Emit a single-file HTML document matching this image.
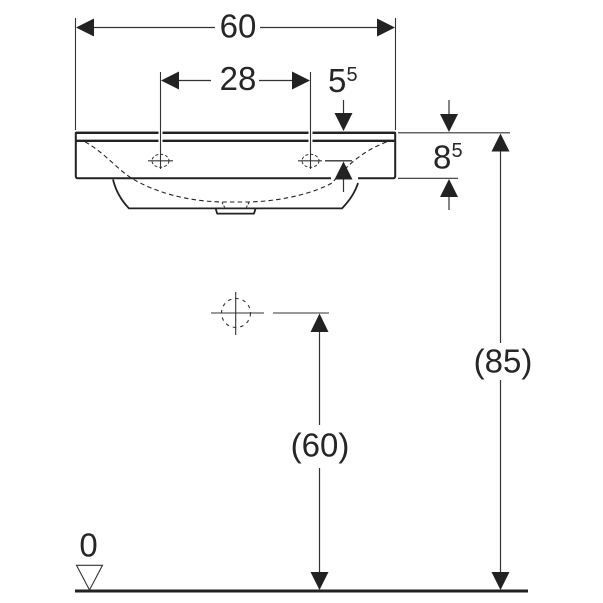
<!DOCTYPE html>
<html>
<head>
<meta charset="utf-8">
<style>
html,body{margin:0;padding:0;background:#fff;width:603px;height:603px;overflow:hidden}
svg{display:block}
text{font-family:"Liberation Sans",sans-serif;fill:#262626}
</style>
</head>
<body>
<svg width="603" height="603" viewBox="0 0 603 603" xmlns="http://www.w3.org/2000/svg">
<rect width="603" height="603" fill="#fff"/>

<!-- basin body -->
<g fill="none" stroke="#222" stroke-linejoin="round">
  <path d="M331 178.3H78Q75.8 178.3 75.8 176V132.8H395.2V176Q395.2 178.3 393 178.3H358" stroke-width="2"/>
  <path d="M76 140.8H395" stroke-width="2.4"/>
  <path d="M76 132.8H395" stroke-width="2.4"/>
  <path d="M113 179.5Q117 196 129 208.4H342Q354 196 358 183" stroke-width="1.8"/>
  <path d="M215.7 208.6L217.2 213.6H254L255.5 208.6" stroke-width="1.8"/>
  <path d="M85 141.8C105 153 118 170 132 178.5C155 192 185 201 222 202H249C285 201 316 192 332 183C342 172 358 152 388 141.5" stroke-width="1.1" stroke-dasharray="4.5 3.2"/>
  <path d="M222 202.5L225 208M249 202.5L246 208" stroke-width="1" stroke-dasharray="2 1.5"/>
</g>

<!-- extension lines with halo -->
<g fill="none" stroke="#fff" stroke-width="4">
  <path d="M160.5 128V155M310.5 128V155"/>
</g>
<g fill="none" stroke="#333" stroke-width="1.1">
  <path d="M75.5 18V130M395.5 18V130"/>
  <path d="M160.5 72V169M310.5 72V169"/>
  <path d="M398 132.8H510M398 178.3H458"/>
  <path d="M148 160.8H173M298 160.8H322"/>
  <path d="M325 160.8H352" stroke-width="1.3"/>
</g>
<!-- holes -->
<g fill="none" stroke="#333" stroke-width="1">
  <ellipse cx="160.5" cy="160.8" rx="8.5" ry="6.5" stroke-dasharray="3 2"/>
  <ellipse cx="310.5" cy="160.8" rx="8.5" ry="6.5" stroke-dasharray="3 2"/>
</g>

<!-- centre mark -->
<g fill="none" stroke="#333" stroke-width="1.1">
  <path d="M211 313H264M235.7 292V335M273 313H329"/>
  <circle cx="236" cy="313" r="14.5" stroke-dasharray="3.5 4"/>
</g>

<!-- dimension lines -->
<g fill="none" stroke="#333" stroke-width="1.2">
  <path d="M92 27.5H215M260 27.5H380"/>
  <path d="M176 80.5H211M259 80.5H295"/>
  <path d="M343.5 100V115M343.5 178V192"/>
  <path d="M449 100V116M449 195V210"/>
  <path d="M500.5 150V343M500.5 380V574"/>
  <path d="M319.5 330V425M319.5 468V574"/>
</g>

<!-- arrowheads -->
<g fill="#222" stroke="none">
  <path d="M76 27.5L94 18.5V36.5Z"/>
  <path d="M395 27.5L377 18.5V36.5Z"/>
  <path d="M161 80.5L179 71.5V89.5Z"/>
  <path d="M310 80.5L292 71.5V89.5Z"/>
  <path d="M343.5 131L334.5 113H352.5Z"/>
  <path d="M343.5 161.5L334.5 179.5H352.5Z"/>
  <path d="M449 132L440 114H458Z"/>
  <path d="M449 179L440 197H458Z"/>
  <path d="M500.5 133.5L491.5 151.5H509.5Z"/>
  <path d="M500.5 590L491.5 572H509.5Z"/>
  <path d="M319.5 313.5L310.5 332H328.5Z"/>
  <path d="M319.5 590L310.5 572H328.5Z"/>
</g>

<!-- ground -->
<path d="M75 591H528" stroke="#222" stroke-width="3" fill="none"/>
<path d="M76.5 565.3H102.5L89.5 590Z" fill="#fff" stroke="#333" stroke-width="1.1"/>

<!-- labels -->
<text x="238" y="37.5" font-size="33" text-anchor="middle">60</text>
<text x="238" y="90" font-size="33" text-anchor="middle">28</text>
<text x="328" y="92" font-size="33">5</text>
<text x="346.5" y="81" font-size="20">5</text>
<text x="433" y="168.5" font-size="33">8</text>
<text x="451.5" y="157" font-size="20">5</text>
<text x="503" y="372.5" font-size="33" text-anchor="middle">(85)</text>
<text x="320" y="456.5" font-size="33" text-anchor="middle">(60)</text>
<text x="88.5" y="556.5" font-size="33" text-anchor="middle">0</text>
</svg>
</body>
</html>
